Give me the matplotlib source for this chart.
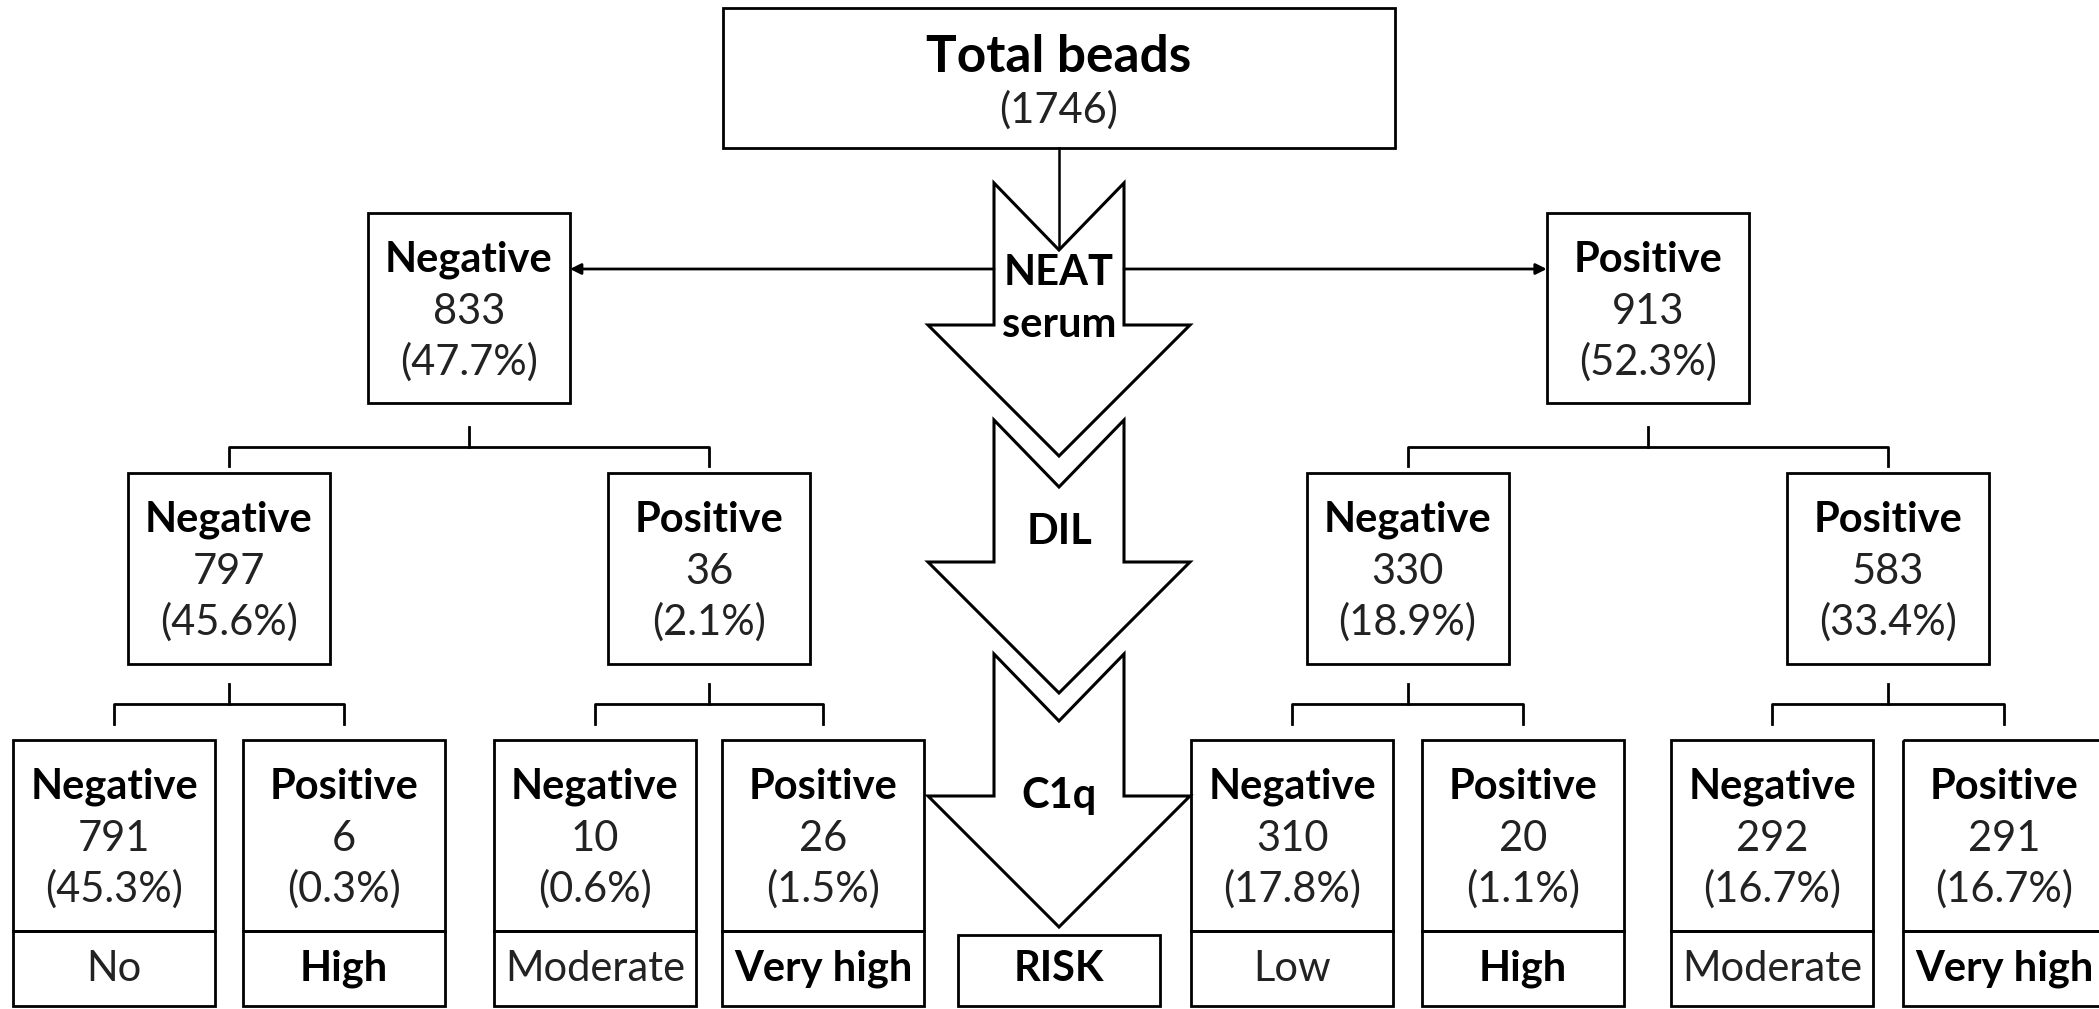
import numpy as np
import matplotlib
matplotlib.use("Agg")
import matplotlib.pyplot as plt
from matplotlib.patches import Rectangle, Polygon

plt.rcParams['font.family'] = ['Lato', 'DejaVu Sans']

# data
total = 1746
level1_names = ["Negative", "Positive"]
level1_counts = [833, 913]
level1_pct = [47.7, 52.3]
level2_names = ["Negative", "Positive", "Negative", "Positive"]
level2_counts = [797, 36, 330, 583]
level2_pct = [45.6, 2.1, 18.9, 33.4]
level3_names = ["Negative", "Positive"] * 4
level3_counts = [791, 6, 10, 26, 310, 20, 292, 291]
level3_pct = [45.3, 0.3, 0.6, 1.5, 17.8, 1.1, 16.7, 16.7]
risk_labels = ["No", "High", "Moderate", "Very high", "Low", "High", "Moderate", "Very high"]
risk_bold = [False, True, False, True, False, True, False, True]
steps = ["NEAT\nserum", "DIL", "C1q"]

W, H = 2099, 1009
fig = plt.figure(figsize=(W / 100, H / 100), dpi=100)
ax = fig.add_axes([0, 0, 1, 1])
ax.set_xlim(0, W)
ax.set_ylim(H, 0)
ax.axis('off')

FS = 30
LW = 2.0
BW = 202  # box width
TXT = '#222222'

def box(x0, y0, x1, y1, lw=LW):
    ax.add_patch(Rectangle((x0, y0), x1 - x0, y1 - y0, fill=False,
                           ec='black', lw=lw, zorder=2))

def node(cx, top, bottom, name, count, pct):
    box(cx - BW / 2, top, cx + BW / 2, bottom)
    ax.text(cx, top + 47, name, ha='center', va='center', fontsize=FS,
            fontweight='bold')
    ax.text(cx, top + 99, str(count), ha='center', va='center', fontsize=FS,
            color=TXT)
    ax.text(cx, top + 149, '(%.1f%%)' % pct, ha='center', va='center',
            fontsize=FS, color=TXT)

def bracket(px, cxs, y_top, y_mid, y_bot):
    ax.plot([px, px], [y_top, y_mid], color='black', lw=2.0)
    ax.plot([cxs[0], cxs[0], cxs[1], cxs[1]], [y_bot, y_mid, y_mid, y_bot],
            color='black', lw=2.0, solid_joinstyle='round')

# x centres of the bottom row (risk column in the middle)
x3 = [114, 344, 595, 823, 1292, 1523, 1772, 2004]
x_mid = 1059
x2 = [(x3[i] + x3[i + 1]) / 2 for i in range(0, 8, 2)]
x1 = [(x2[i] + x2[i + 1]) / 2 for i in range(0, 4, 2)]

# top box
box(723, 8, 1395, 148)
ax.text(x_mid, 57, 'Total beads', ha='center', va='center', fontsize=37,
        fontweight='bold')
ax.text(x_mid, 110, '(%d)' % total, ha='center', va='center', fontsize=FS,
        color=TXT)
ax.plot([x_mid, x_mid], [148, 250], color='black', lw=1.8)

# level 1
for cx, n, c, p in zip(x1, level1_names, level1_counts, level1_pct):
    node(cx, 213, 403, n, c, p)
# level 2
for cx, n, c, p in zip(x2, level2_names, level2_counts, level2_pct):
    node(cx, 473, 664, n, c, p)
# level 3 + risk row
for cx, n, c, p, r, b in zip(x3, level3_names, level3_counts, level3_pct,
                             risk_labels, risk_bold):
    node(cx, 740, 931, n, c, p)
    box(cx - BW / 2, 931, cx + BW / 2, 1006)
    ax.text(cx, 969, r, ha='center', va='center', fontsize=FS,
            fontweight='bold' if b else 'normal',
            color='black' if b else TXT)

# brackets
for i in range(2):
    bracket(x1[i], x2[2 * i:2 * i + 2], 427, 447, 466)
for i in range(4):
    bracket(x2[i], x3[2 * i:2 * i + 2], 684, 704, 724)

# chevron arrows in the middle column
bh, hh = 65, 131
tops = [183, 420, 654]
for t, lab in zip(tops, steps):
    n = t + 67
    s = t + 142
    p = s + hh
    pts = [(x_mid - bh, t), (x_mid, n), (x_mid + bh, t), (x_mid + bh, s),
           (x_mid + hh, s), (x_mid, p), (x_mid - hh, s), (x_mid - bh, s)]
    ax.add_patch(Polygon(pts, closed=True, fc='white', ec='black', lw=2.2,
                         zorder=3))
    if '\n' in lab:
        a, b = lab.split('\n')
        ax.text(x_mid, t + 90, a, ha='center', va='center', fontsize=FS,
                fontweight='bold', zorder=4)
        ax.text(x_mid, t + 142, b, ha='center', va='center', fontsize=FS,
                fontweight='bold', zorder=4)
    else:
        ax.text(x_mid, s - 30 if lab == 'DIL' else s, lab, ha='center',
                va='center', fontsize=FS, fontweight='bold', zorder=4)

# horizontal arrows from the first step
ax.annotate('', xy=(x1[0] + BW / 2, 269), xytext=(x_mid - bh, 269),
            arrowprops=dict(arrowstyle='-|>', color='black', lw=2.0,
                            mutation_scale=16, shrinkA=0, shrinkB=0))
ax.annotate('', xy=(x1[1] - BW / 2, 269), xytext=(x_mid + bh, 269),
            arrowprops=dict(arrowstyle='-|>', color='black', lw=2.0,
                            mutation_scale=16, shrinkA=0, shrinkB=0))

# risk box
box(x_mid - BW / 2, 935, x_mid + BW / 2, 1006)
ax.text(x_mid, 969, 'RISK', ha='center', va='center', fontsize=FS,
        fontweight='bold')

fig.savefig('out.png', dpi=100, facecolor='white')
